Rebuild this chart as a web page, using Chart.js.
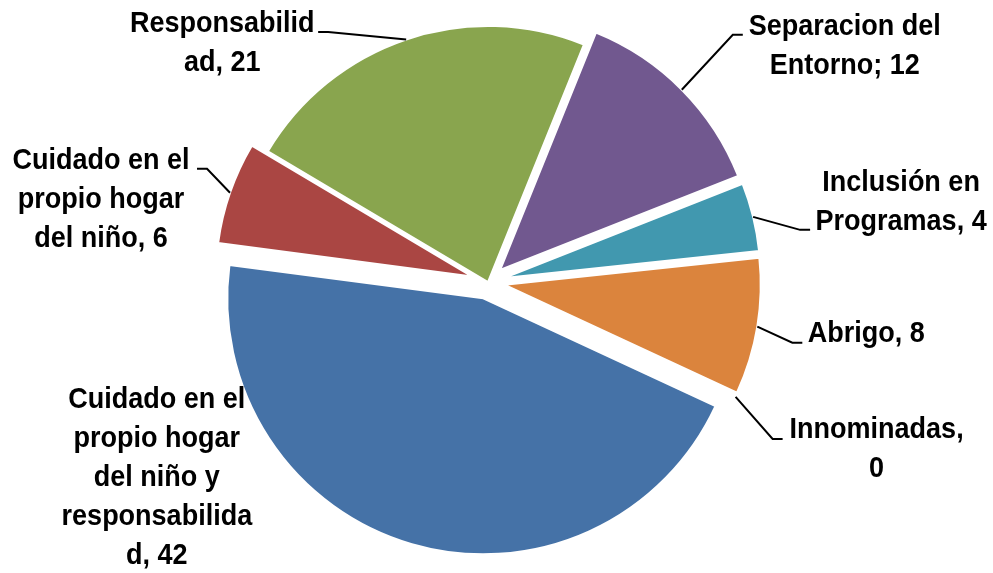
<!DOCTYPE html>
<html><head><meta charset="utf-8">
<script src="https://cdn.jsdelivr.net/npm/chart.js@4.4.1/dist/chart.umd.min.js"></script>
<style>html,body{margin:0;padding:0;background:#fff;} #wrap{width:993px;height:573px;position:relative}</style>
</head><body><div id="wrap"><canvas id="c" width="993" height="573"></canvas></div>
<script>
// ---- data ----
const categories = ['Separacion del Entorno', 'Inclusión en Programas', 'Abrigo', 'Innominadas',
  'Cuidado en el propio hogar del niño y responsabilidad', 'Cuidado en el propio hogar del niño', 'Responsabilidad'];
const values = [12, 4, 8, 0, 42, 6, 21];
// label text as wrapped in the original ({v} = value)
const labelLines = [
  ['Separacion del', 'Entorno; {v}'],
  ['Inclusión en', 'Programas, {v}'],
  ['Abrigo, {v}'],
  ['Innominadas,', '{v}'],
  ['Cuidado en el', 'propio hogar', 'del niño y', 'responsabilida', 'd, {v}'],
  ['Cuidado en el', 'propio hogar', 'del niño, {v}'],
  ['Responsabilid', 'ad, {v}']
];

// ---- style ----
const colors = ['#71588F', '#4198AF', '#DB843D', '#A47D7C', '#4572A7', '#AA4643', '#89A54E'];
const explode = [17, 17, 17, 17, 17, 17, 0];
// label placement relative to the slice's outer edge point at mid-angle
const labelLayout = [
  { text: [163, -45], elbow: [51, -55], tail: 10 },
  { text: [148, -17], elbow: [47, 13], tail: 10 },
  { text: [109, 5], elbow: [35, 16], tail: 10 },
  { text: [141, 50], elbow: [37, 42], tail: 10 },
  { text: [-255, -68], elbow: null },
  { text: [-129, 5], elbow: [-23, -24], tail: -10 },
  { text: [-184, 1.5], elbow: [-78, -7.5], tail: -10 }
];
const FONT = 'bold 30px "Liberation Sans", Arial, sans-serif';
const NARROW = 0.9;   // horizontal condensing (Arial Narrow look)
const LINE_H = 39;
const TEXT_DY = 2;

const explodePlugin = {
  id: 'explode',
  afterDatasetsUpdate(chart) {
    chart.getDatasetMeta(0).data.forEach((arc, i) => {
      const mid = (arc.startAngle + arc.endAngle) / 2;
      arc.x += Math.cos(mid) * explode[i];
      arc.y += Math.sin(mid) * explode[i];
    });
  }
};

const labelPlugin = {
  id: 'pieLabels',
  afterDatasetsDraw(chart) {
    const ctx = chart.ctx;
    ctx.save();
    chart.getDatasetMeta(0).data.forEach((arc, i) => {
      const L = labelLayout[i];
      const mid = (arc.startAngle + arc.endAngle) / 2;
      const ex = arc.x + Math.cos(mid) * arc.outerRadius;
      const ey = arc.y + Math.sin(mid) * arc.outerRadius;
      if (L.elbow) {
        ctx.beginPath();
        ctx.strokeStyle = '#000';
        ctx.lineWidth = 2;
        ctx.moveTo(ex, ey);
        ctx.lineTo(ex + L.elbow[0], ey + L.elbow[1]);
        ctx.lineTo(ex + L.elbow[0] + L.tail, ey + L.elbow[1]);
        ctx.stroke();
      }
      const lines = labelLines[i].map(s => s.replace('{v}', String(values[i])));
      ctx.font = FONT;
      ctx.fillStyle = '#000';
      ctx.textAlign = 'center';
      ctx.textBaseline = 'middle';
      const cx = ex + L.text[0], cy = ey + L.text[1] + TEXT_DY;
      const y0 = cy - (lines.length - 1) * LINE_H / 2;
      lines.forEach((s, k) => {
        ctx.save();
        ctx.translate(cx, y0 + k * LINE_H);
        ctx.scale(NARROW, 1);
        ctx.fillText(s, 0, 0);
        ctx.restore();
      });
    });
    ctx.restore();
  }
};

new Chart(document.getElementById('c'), {
  type: 'pie',
  data: {
    labels: categories,
    datasets: [{
      data: values,
      backgroundColor: colors,
      borderColor: '#ffffff',
      borderWidth: 2
    }]
  },
  options: {
    responsive: false,
    animation: false,
    events: [],
    rotation: 22,
    radius: 256,
    layout: { padding: { left: 0, right: 17, top: 0, bottom: 9 } },
    plugins: { legend: { display: false }, tooltip: { enabled: false } }
  },
  plugins: [explodePlugin, labelPlugin]
});
</script>
</body></html>
